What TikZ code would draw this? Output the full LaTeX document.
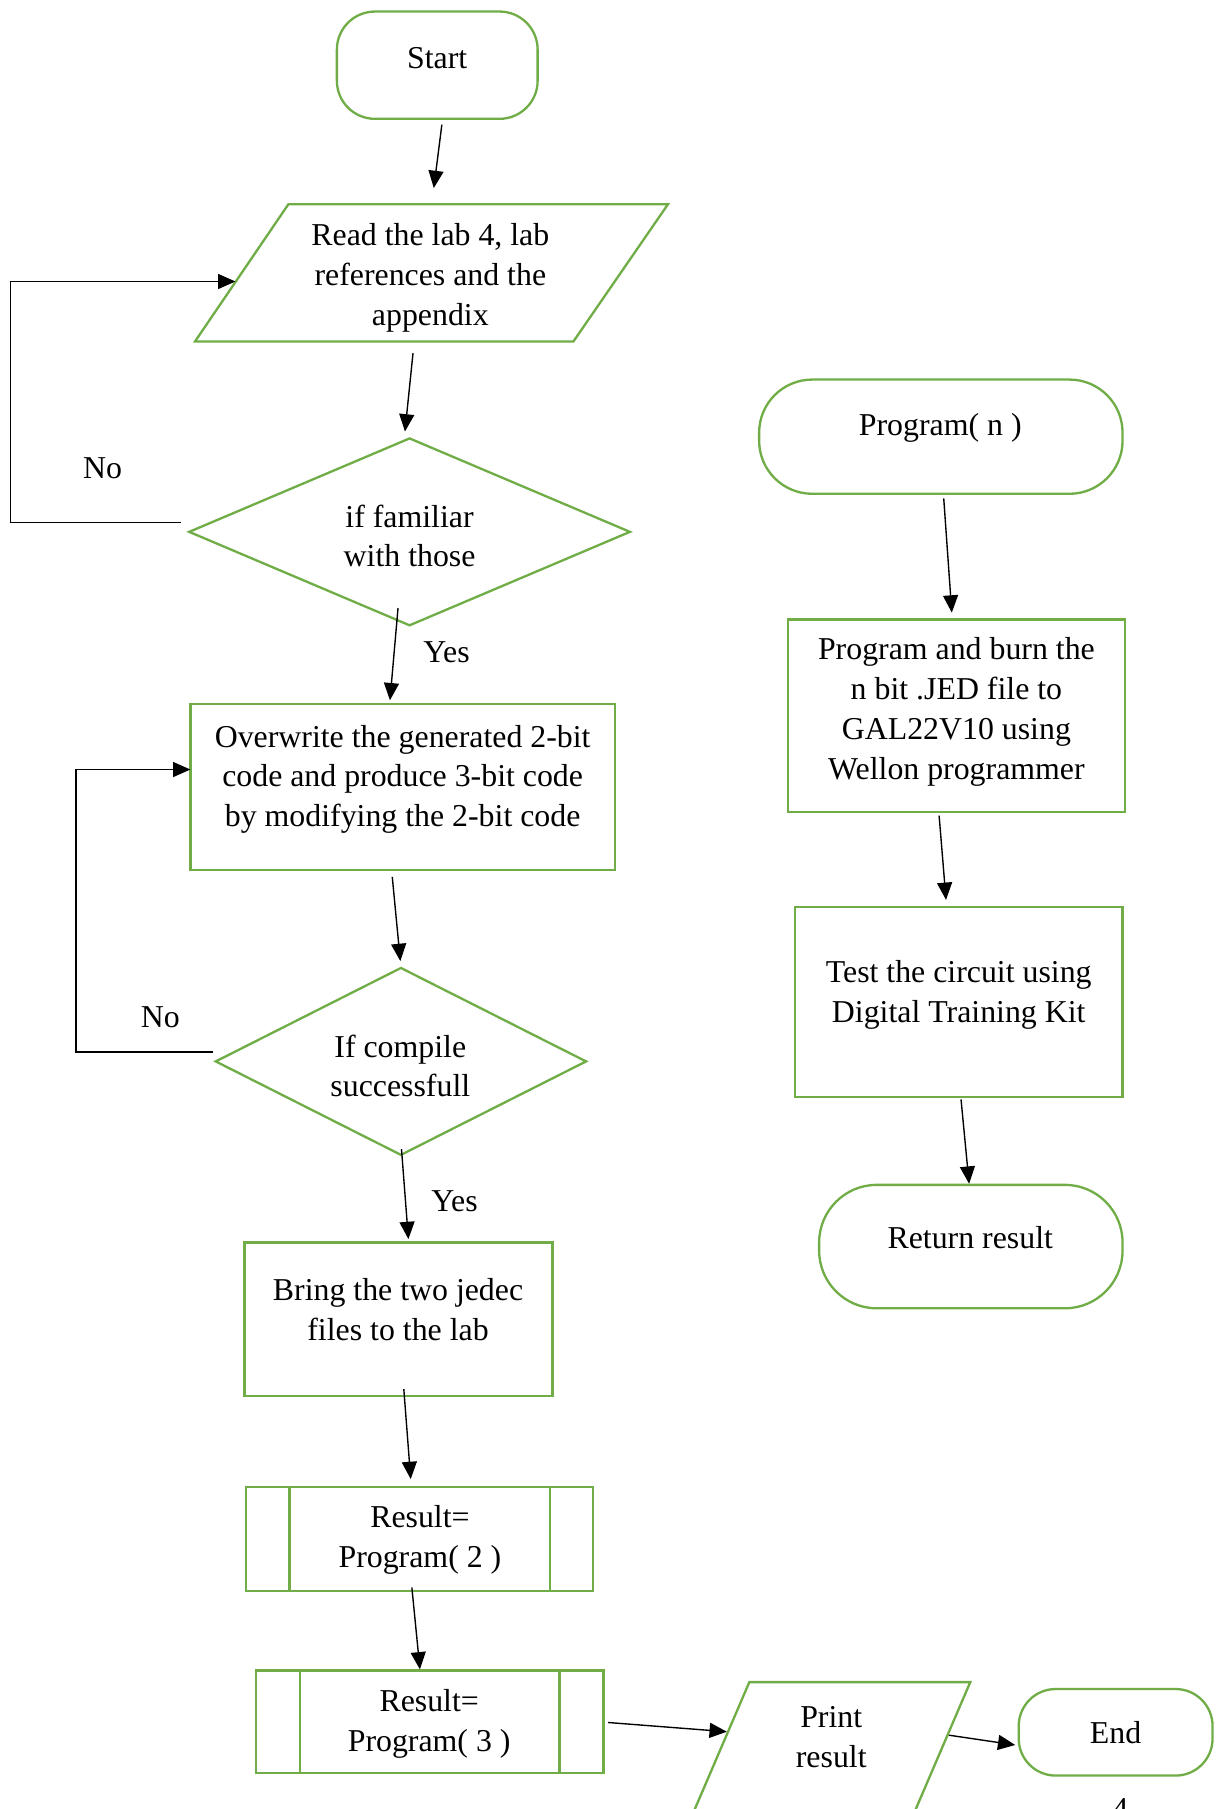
\documentclass[tikz,border=0pt]{standalone}
\usepackage{fontspec}
\setmainfont{Liberation Serif}
\usetikzlibrary{arrows.meta,shapes.geometric,calc}
\definecolor{flowgreen}{HTML}{70AD47}
\begin{document}
\begin{tikzpicture}[x=1pt,y=1pt,
  shp/.style={draw=flowgreen, line width=2pt},
  term/.style={shp, rectangle, inner sep=0pt, outer sep=0pt},
  box/.style={shp, rectangle, inner sep=0pt, outer sep=0pt},
  dec/.style={shp, diamond, inner sep=0pt, outer sep=0pt},
  ghost/.style={rectangle, inner sep=0pt, outer sep=0pt},
  txt/.style={align=center, inner sep=0pt, font=\fontsize{27.6}{34.5}\selectfont},
  lbl/.style={inner sep=0pt, font=\fontsize{27.6}{34.5}\selectfont},
  arr/.style={line width=1.2pt, -{Triangle[length=15pt,width=13pt]}}]

\useasboundingbox (0,0) rectangle (1057,-1568);
\clip (0,0) rectangle (1057,-1568);
\fill[white] (0,0) rectangle (1057,-1568);

% ---------------- left column ----------------
\node[term, rounded corners=33pt, minimum width=174pt, minimum height=93pt] (start) at (379,-56.5) {};
\node[txt] (startT) at (379,-50.5) {Start};

\node[ghost, minimum width=410pt, minimum height=119pt] (read) at (374,-236.5) {};
\draw[shp] ([xshift=81pt]read.north west) -- (read.north east) -- ([xshift=-82pt]read.south east) -- (read.south west) -- cycle;
\node[txt] (readT) at (373,-241) {Read the lab 4, lab\\references and the\\appendix};

\node[dec, minimum width=382pt, minimum height=162pt] (fam) at (355,-461) {};
\node[txt] (famT) at (355,-464.5) {if familiar\\with those};

\node[box, minimum width=368pt, minimum height=144pt] (over) at (349,-682) {};
\node[txt] (overT) at (349,-675.5) {Overwrite the generated 2-bit\\code and produce 3-bit code\\by modifying the 2-bit code};

\node[dec, minimum width=321pt, minimum height=162pt] (comp) at (347.5,-920) {};
\node[txt] (compT) at (347,-924) {If compile\\successfull};

\node[box, minimum width=267pt, minimum height=133pt] (bring) at (345.5,-1143.5) {};
\node[txt] (bringT) at (345,-1135) {Bring the two jedec\\files to the lab};

\node[box, minimum width=301pt, minimum height=90pt] (res2) at (363.5,-1334) {};
\draw[shp] ([xshift=38pt]res2.north west) -- ([xshift=38pt]res2.south west);
\draw[shp] ([xshift=-37pt]res2.north east) -- ([xshift=-37pt]res2.south east);
\node[txt] (res2T) at (364,-1335) {Result=\\Program( 2 )};

\node[box, minimum width=301pt, minimum height=89pt] (res3) at (372.5,-1492.5) {};
\draw[shp] ([xshift=38pt]res3.north west) -- ([xshift=38pt]res3.south west);
\draw[shp] ([xshift=-38pt]res3.north east) -- ([xshift=-38pt]res3.south east);
\node[txt] (res3T) at (372,-1494) {Result=\\Program( 3 )};

\node[ghost, minimum width=243pt, minimum height=120pt] (print) at (719.5,-1518) {};
\draw[shp] ([xshift=51.5pt]print.north west) -- (print.north east) -- ([xshift=-51.5pt]print.south east) -- (print.south west) -- cycle;
\node[txt] (printT) at (720.5,-1505.5) {Print\\result};

\node[term, rounded corners=32pt, minimum width=168pt, minimum height=75pt] (endn) at (967,-1501.5) {};
\node[txt] (endT) at (967,-1501.5) {End};

\node[lbl, anchor=base] (pagenum) at (971,-1577) {4};

% ---------------- right column ----------------
\node[term, rounded corners=46pt, minimum width=315pt, minimum height=99pt] (progn) at (815.5,-378.5) {};
\node[txt] (prognT) at (815,-370.5) {Program( n )};

\node[box, minimum width=292pt, minimum height=167pt] (burn) at (829,-620.5) {};
\node[txt] (burnT) at (829,-617) {Program and burn the\\n bit .JED file to\\GAL22V10 using\\Wellon programmer};

\node[box, minimum width=284pt, minimum height=165pt] (test) at (831,-868.5) {};
\node[txt] (testT) at (831,-862) {Test the circuit using\\Digital Training Kit};

\node[term, rounded corners=50pt, minimum width=263pt, minimum height=107pt] (ret) at (841.5,-1080.5) {};
\node[txt] (retT) at (841,-1072.5) {Return result};

% ---------------- connectors ----------------
\draw[arr] ([shift={(4,-5)}]start.south) -- ([shift={(2,14)}]read.north);
\draw[arr] ([shift={(-16,-10)}]read.south) -- ([shift={(-4,6)}]fam.north);
\draw[arr] ([shift={(-10,15)}]fam.south) -- ([shift={(-11,3)}]over.north);
\draw[arr] ([shift={(-7,8)}]fam.west) -- ++(-148,0) |- ([shift={(35,-7.5)}]read.west);
\draw[arr] ([shift={(-9,-6)}]over.south) -- ([shift={(-0.5,6)}]comp.north);
\draw[arr] ([shift={(-2,8)}]comp.west) -- ++(-119,0) |- ([shift={(0,15)}]over.west);
\draw[arr] ([shift={(0.5,5)}]comp.south) -- ([shift={(8.5,3)}]bring.north);
\draw[arr] ([shift={(4.5,6)}]bring.south) -- ([shift={(-7.5,7)}]res2.north);
\draw[arr] ([shift={(-6.5,3)}]res2.south) -- ([shift={(-8.5,1)}]res3.north);
\draw[arr] ([shift={(4,-0.5)}]res3.east) -- ([shift={(32,17)}]print.west);
\draw[arr] ([shift={(-18.5,14)}]print.east) -- ([shift={(-3,-11)}]endn.west);

\draw[arr] ([shift={(2.5,-4)}]progn.south) -- ([shift={(-4,6)}]burn.north);
\draw[arr] ([shift={(-15,-3)}]burn.south) -- ([shift={(-11,6)}]test.north);
\draw[arr] ([shift={(2,-2)}]test.south) -- ([shift={(-1.5,1)}]ret.north);

% ---------------- labels ----------------
\node[lbl] (no1) at (89,-405.5) {No};
\node[lbl] (yes1) at (387,-565) {Yes};
\node[lbl] (no2) at (139,-881.5) {No};
\node[lbl] (yes2) at (394,-1041) {Yes};
\end{tikzpicture}
\end{document}
